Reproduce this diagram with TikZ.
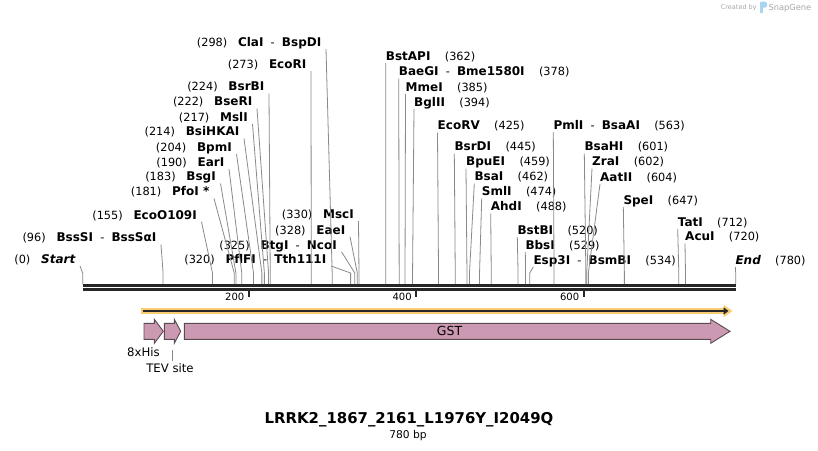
\documentclass[tikz,border=0pt]{standalone}
\usepackage{fontspec}
\setmainfont{DejaVu Sans}
\usepackage{tikz}
\usetikzlibrary{arrows.meta}
\definecolor{cutgray}{HTML}{8A8A8A}
\definecolor{bbdark}{HTML}{262626}
\definecolor{orfgold}{HTML}{F9CB72}
\definecolor{featpink}{HTML}{CC99B2}
\definecolor{featline}{HTML}{5A4A52}
\definecolor{sggray}{HTML}{A8A8A8}
\definecolor{sgblue}{HTML}{A6D4F2}
\newcommand{\enz}[1]{{\fontsize{12}{13}\selectfont\bfseries #1}}

\begin{document}
\begin{tikzpicture}[
  x=1pt, y=-1pt,
  every node/.style={font=\fontsize{11.3}{13}\selectfont, inner sep=0pt},
  ltag/.style={anchor=south east, inner xsep=4.5pt, inner ysep=0.5pt,
               text height=9pt, text depth=2pt},
  rtag/.style={anchor=south west, inner xsep=0pt, inner ysep=0.5pt,
               text height=9pt, text depth=2pt},
  cut/.style={draw=cutgray, line width=0.8pt},
  bb/.style={draw=bbdark, line width=3pt},
  feat/.style={fill=featpink, draw=featline, line width=0.9pt},
  flbl/.style={font=\fontsize{11.7}{13}\selectfont}
]
\fill[white] (0,0) rectangle (818,450);
\useasboundingbox (0,0) rectangle (818,450);

%% sites on the backbone
\foreach \n/\p in {start/0, bssSI/96, ecoO/155, pfoI/181, bsgI/183, earI/190,
    bpmI/204, bsiHK/214, mslI/217, bseRI/222, bsrBI/224, ecoRI/273, claI/298,
    pflFI/320, btgI/325, eaeI/328, mscI/330, bstAPI/362, baeGI/378, mmeI/385,
    bglII/394, ecoRV/425, bsrDI/445, bpuEI/459, bsaI/462, smlI/474, ahdI/488,
    bstBI/520, bbsI/529, esp3I/534, pmlI/563, bsaHI/601, zraI/602, aatII/604,
    speI/647, tatI/712, acuI/720, endp/780}
  \coordinate (s-\n) at ({82.7+0.8372*\p},284);

%% backbone + ruler
\draw[bb] (82.7,285.3) -- (735.7,285.3);
\draw[bb, line width=2.6pt] (82.7,289.2) -- (735.7,289.2);
\foreach \t in {200,400,600} {
  \draw[bbdark, line width=2pt] ({81.4+0.8372*\t},290) -- ++(0,7.3);
  \node[anchor=east, font=\fontsize{10}{12}\selectfont] (t\t) at ({77+0.8372*\t},297) {\t};
}

%% left labels
\node[ltag] (claI)  at (326,49)      {(298)\ \ \ \enz{ClaI}\ \ -\ \ \enz{BspDI}};
\node[ltag] (ecoRI) at (311,71)      {(273)\ \ \ \enz{EcoRI}};
\node[ltag] (bsrBI) at (269,93.5)    {(224)\ \ \ \enz{BsrBI}};
\node[ltag] (bseRI) at (257,108.5)   {(222)\ \ \ \enz{BseRI}};
\node[ltag] (mslI)  at (252.5,124)   {(217)\ \ \ \enz{MslI}};
\node[ltag] (bsiHK) at (244,138.5)   {(214)\ \ \ \enz{BsiHKAI}};
\node[ltag] (bpmI)  at (236.5,154)   {(204)\ \ \ \enz{BpmI}};
\node[ltag] (earI)  at (229,169)     {(190)\ \ \ \enz{EarI}};
\node[ltag] (bsgI)  at (220.5,183.5) {(183)\ \ \ \enz{BsgI}};
\node[ltag] (pfoI)  at (214,198.5)   {(181)\ \ \ \enz{PfoI *}};
\node[ltag] (ecoO)  at (201.5,221.8) {(155)\ \ \ \enz{EcoO109I}};
\node[ltag] (bssSI) at (161,244.5)   {(96)\ \ \ \enz{BssSI}\ \ -\ \ \enz{BssSαI}};
\node[ltag] (start) at (80,266)      {(0)\ \ \ \enz{\itshape Start}};
\node[ltag] (pflFI) at (331,266)     {(320)\ \ \ \enz{PflFI}\ \ -\ \ \enz{Tth111I}};
\node[ltag] (btgI)  at (341.5,251.8) {(325)\ \ \ \enz{BtgI}\ \ -\ \ \enz{NcoI}};
\node[ltag] (eaeI)  at (350,236.8)   {(328)\ \ \ \enz{EaeI}};
\node[ltag] (mscI)  at (358.5,221.1) {(330)\ \ \ \enz{MscI}};

%% right labels
\node[rtag] (bstAPI) at (385.7,63)    {\enz{BstAPI}\ \ \ \ (362)};
\node[rtag] (baeGI)  at (398.7,78.5)  {\enz{BaeGI}\ \ -\ \ \enz{Bme1580I}\ \ \ \ (378)};
\node[rtag] (mmeI)   at (405.5,94)    {\enz{MmeI}\ \ \ \ (385)};
\node[rtag] (bglII)  at (414,109)     {\enz{BglII}\ \ \ \ (394)};
\node[rtag] (ecoRV)  at (437.5,132.5) {\enz{EcoRV}\ \ \ \ (425)};
\node[rtag] (bsrDI)  at (454.3,153.5) {\enz{BsrDI}\ \ \ \ (445)};
\node[rtag] (bpuEI)  at (466,168.5)   {\enz{BpuEI}\ \ \ \ (459)};
\node[rtag] (bsaI)   at (474.3,183.5) {\enz{BsaI}\ \ \ \ (462)};
\node[rtag] (smlI)   at (481.7,198.5) {\enz{SmlI}\ \ \ \ (474)};
\node[rtag] (ahdI)   at (490.7,213.5) {\enz{AhdI}\ \ \ \ (488)};
\node[rtag] (bstBI)  at (517.3,236.8) {\enz{BstBI}\ \ \ \ (520)};
\node[rtag] (bbsI)   at (525.3,251.8) {\enz{BbsI}\ \ \ \ (529)};
\node[rtag] (esp3I)  at (533.3,266.8) {\enz{Esp3I}\ \ -\ \ \enz{BsmBI}\ \ \ \ (534)};
\node[rtag] (pmlI)   at (553.3,131.8) {\enz{PmlI}\ \ -\ \ \enz{BsaAI}\ \ \ \ (563)};
\node[rtag] (bsaHI)  at (584.3,153.5) {\enz{BsaHI}\ \ \ \ (601)};
\node[rtag] (zraI)   at (592,168.5)   {\enz{ZraI}\ \ \ \ (602)};
\node[rtag] (aatII)  at (600,184)     {\enz{AatII}\ \ \ \ (604)};
\node[rtag] (speI)   at (623.3,206.8) {\enz{SpeI}\ \ \ \ (647)};
\node[rtag] (tatI)   at (677.7,229)   {\enz{TatI}\ \ \ \ (712)};
\node[rtag] (acuI)   at (685,243.5)   {\enz{AcuI}\ \ \ \ (720)};
\node[rtag] (endp)   at (735.3,266.8) {\enz{\itshape End}\ \ \ \ (780)};

%% cut lines
\foreach \n in {claI,ecoRI,bsrBI,bseRI,mslI,bsiHK,bpmI,earI,bsgI,pfoI,ecoO,
                bssSI,start,pflFI,btgI,eaeI,mscI}
  \draw[cut] (\n.south east) -- ([yshift=11pt]s-\n) -- (s-\n);
\foreach \n in {bstAPI,baeGI,mmeI,bglII,ecoRV,bsrDI,bpuEI,bsaI,smlI,ahdI,bstBI,
                bbsI,esp3I,pmlI,bsaHI,zraI,aatII,speI,tatI,acuI,endp}
  \draw[cut] (\n.south west) -- ([yshift=11pt]s-\n) -- (s-\n);

%% ORF
\draw[orfgold, line width=5.5pt, -{Triangle[length=9pt,width=12pt]}] (141,311) -- (732.5,311);
\draw[bbdark, line width=1.6pt, -{Triangle[length=5pt,width=7pt]}] (142.5,311) -- (728.5,311);

%% features
\foreach \a/\b/\c in {144/154.3/163.3, 164.3/174.3/180.7, 184.3/710.7/730}
  \draw[feat] (\a,323.3) -- (\b,323.3) -- (\b,319.3) -- (\c,331.3)
              -- (\b,343.3) -- (\b,339.3) -- (\a,339.3) -- cycle;
\node[font=\fontsize{12.5}{14}\selectfont] (gst) at (449.5,331) {GST};
\node[flbl] (his) at (143.5,352) {8xHis};
\node[flbl] (tev) at (170,368.5) {TEV site};
\coordinate (tevfoot) at (172.3,350);
\draw[cut, line width=0.6pt] (tevfoot) -- ++(0,10.7);

%% title
\node[anchor=base, font=\fontsize{14.9}{17}\selectfont\bfseries] (title) at (409,423.5)
  {LRRK2\_1867\_2161\_L1976Y\_I2049Q};
\node[anchor=base, font=\fontsize{10.7}{12}\selectfont] (bp) at (408,438) {780 bp};

%% logo
\node[anchor=base west, font=\fontsize{6.5}{8}\selectfont, text=sggray] (cby) at (720.7,9.5) {Created by};
\fill[sgblue, rounded corners=1.5pt] (760,1.7) rectangle (767,7.5);
\fill[sgblue] (760,1.7) rectangle (762.8,13.3);
\node[anchor=base west, font=\fontsize{8.3}{10}\selectfont, text=sggray] (sg) at (768.3,10.2) {SnapGene};
\end{tikzpicture}
\end{document}
